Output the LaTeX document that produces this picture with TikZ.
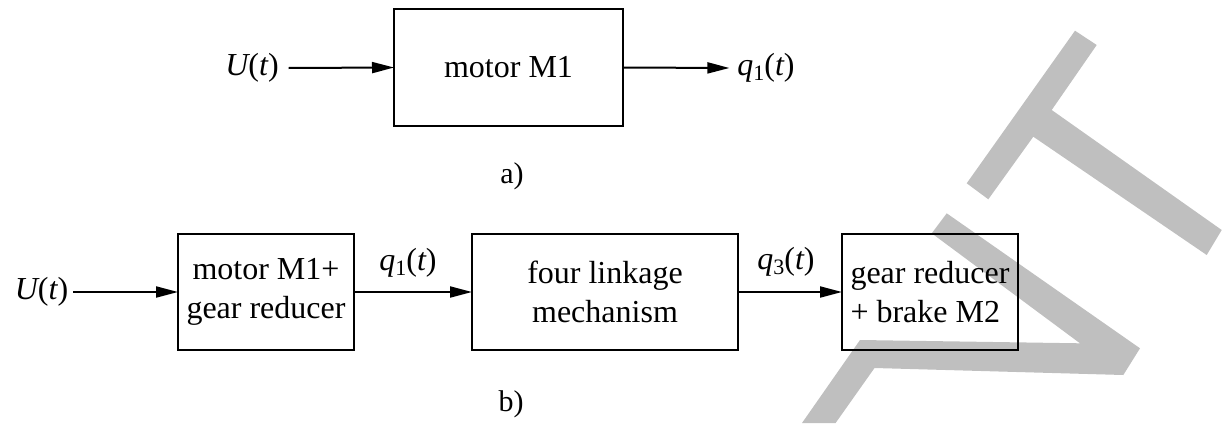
\documentclass[tikz,border=0pt]{standalone}
\usepackage{fontspec}
\setmainfont{Liberation Serif}
\usetikzlibrary{arrows.meta}
\newcommand\boxfont{\fontsize{32}{39}\selectfont}
\newcommand\sgn[1]{{\itshape #1}}
\newcommand\qsig[1]{{\itshape q}\raisebox{-0.3ex}{\fontsize{22}{22}\selectfont #1}(\sgn{t})}
\begin{document}
\begin{tikzpicture}[x=1pt,y=-1pt,
  blk/.style={draw,line width=2.8pt,minimum height=116pt,inner sep=0pt,outer sep=0pt,font=\boxfont,align=center},
  sig/.style={inner sep=0pt,outer sep=0pt,font=\boxfont},
  lab/.style={inner sep=0pt,font=\fontsize{30}{30}\selectfont},
  arr/.style={line width=2pt,-{Triangle[length=22pt,width=11pt]}},
  wm/.style={fill=black!25,draw=none}]
\useasboundingbox (0,0) rectangle (1222,423);
% watermark
\fill[wm] (1075,30.7) -- (1096.7,45) -- (1051.7,110) -- (1221.7,230) -- (1206.7,255)
  -- (1033.3,136.7) -- (988.3,199.3) -- (966.7,183.3) -- cycle;
\fill[wm] (931.7,233.3) -- (946.7,213.3) -- (1140,348.3) -- (1123.3,375) -- (874.5,368)
  -- (835.6,423) -- (802,423) -- (860,340) -- (1080,343.3) -- cycle;
% a)
\node[sig] (ua) at (252,68) {\sgn{U}(\sgn{t})};
\node[blk,minimum width=229pt,minimum height=117pt] (m1) at (508.5,67.5) {motor M1};
\node[sig] (qa) at (766,68) {\qsig{1}};
\draw[arr] ([xshift=10pt]ua.east) -- (m1.west);
\draw[arr] (m1.east) -- ([xshift=-8pt]qa.west);
\node[lab] (la) at (512,176) {a)};
% b)
\node[sig] (ub) at (41.5,292) {\sgn{U}(\sgn{t})};
\node[blk,minimum width=176pt] (b1) at (266,292) {motor M1+\\gear reducer};
\node[blk,minimum width=266pt] (b2) at (605,292) {four linkage\\mechanism};
\node[blk,minimum width=176pt,align=left] (b3) at (930,292) {gear reducer\\+ brake M2};
\node[sig] (qb1) at (408,263) {\qsig{1}};
\node[sig] (qb3) at (786,262) {\qsig{3}};
\draw[arr] ([xshift=5pt]ub.east) -- (b1.west);
\draw[arr] (b1.east) -- (b2.west);
\draw[arr] (b2.east) -- (b3.west);
\node[lab] (lb) at (511,404) {b)};
\end{tikzpicture}
\end{document}
